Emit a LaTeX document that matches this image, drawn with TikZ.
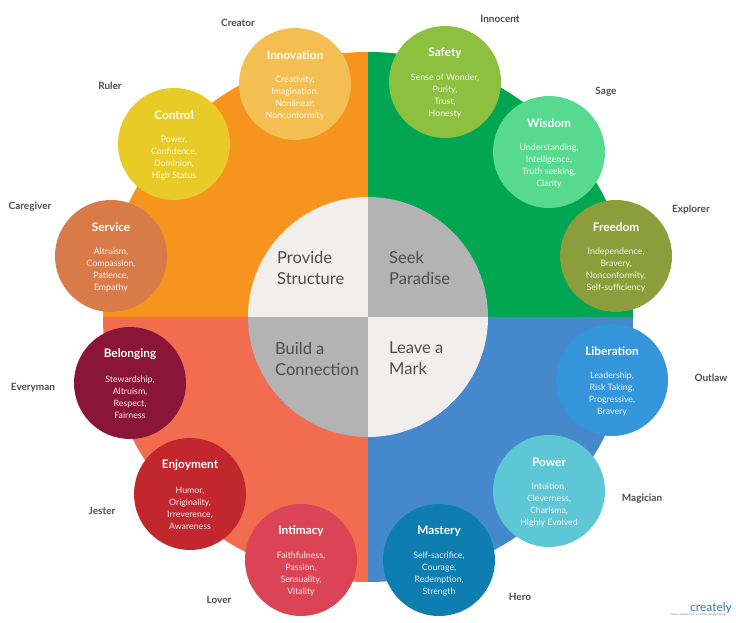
\documentclass[tikz,border=0pt]{standalone}
\usepackage{fontspec}
\setmainfont{Lato}
\usepackage{tikz}
\usepackage{xcolor}
\definecolor{quadO}{HTML}{F7941D}
\definecolor{quadV}{HTML}{00A651}
\definecolor{quadR}{HTML}{F26C4F}
\definecolor{quadB}{HTML}{4589CC}
\definecolor{clair}{HTML}{F0EFEC}
\definecolor{gris}{HTML}{B3B3B3}
\definecolor{texteG}{HTML}{4D4D4D}
\definecolor{cInnov}{HTML}{F3BF52}
\definecolor{cControl}{HTML}{E8CB26}
\definecolor{cService}{HTML}{D97B48}
\definecolor{cSafety}{HTML}{8DC03F}
\definecolor{cWisdom}{HTML}{57DA8F}
\definecolor{cFreedom}{HTML}{8C9E3B}
\definecolor{cBelong}{HTML}{8A1538}
\definecolor{cEnjoy}{HTML}{C1272D}
\definecolor{cIntim}{HTML}{DB4456}
\definecolor{cLiber}{HTML}{3595DA}
\definecolor{cPower}{HTML}{5EC7D6}
\definecolor{cMaster}{HTML}{0E7DB0}
\definecolor{logoB}{HTML}{2C7BB6}

\begin{document}
\begin{tikzpicture}[x=1pt, y=1pt,
    bulle/.style={circle, minimum size=112pt, inner sep=0pt},
    titre/.style={text=white, font=\fontsize{11.8}{13}\selectfont\bfseries},
    texte/.style={text=white, text opacity=.9, align=center, font=\fontsize{8.8}{12}\selectfont},
    arch/.style={text=texteG, font=\fontsize{10}{11}\selectfont\bfseries},
    centre/.style={text=texteG, align=left, anchor=west, inner sep=0pt, font=\fontsize{16.5}{21}\selectfont}]
    \useasboundingbox (0,0) rectangle (736,622);
    % grand disque
    \begin{scope}
        \clip (368,305) circle (265);
        \fill[quadO] (368,305) rectangle (100,575);
        \fill[quadV] (368,305) rectangle (640,575);
        \fill[quadR] (368,305) rectangle (100,35);
        \fill[quadB] (368,305) rectangle (640,35);
    \end{scope}
    % disque central
    \begin{scope}
        \clip (368,305) circle (120);
        \fill[clair] (368,305) rectangle (240,430);
        \fill[gris] (368,305) rectangle (496,430);
        \fill[gris] (368,305) rectangle (240,180);
        \fill[clair] (368,305) rectangle (496,180);
    \end{scope}
    \node[centre] (structure) at (277,354) {Provide\\Structure};
    \node[centre] (paradise) at (389,354) {Seek\\Paradise};
    \node[centre] (connection) at (275,263) {Build a\\Connection};
    \node[centre] (mark) at (389,264) {Leave a\\Mark};
    %haut gauche
    \node[bulle, fill=cInnov] (innovation) at (295,538) {};
    \node[titre] (innovation-t) at ([yshift=29pt]innovation.center) {Innovation};
    \node[texte] (innovation-b) at ([yshift=-14pt]innovation.center) {Creativity,\\Imagination,\\Nonlinear,\\Nonconformity};
    \node[bulle, fill=cControl] (control) at (174,478) {};
    \node[titre] (control-t) at ([yshift=29pt]control.center) {Control};
    \node[texte] (control-b) at ([yshift=-14pt]control.center) {Power,\\Confidence,\\Dominion,\\High Status};
    \node[bulle, fill=cService] (service) at (111,366) {};
    \node[titre] (service-t) at ([yshift=29pt]service.center) {Service};
    \node[texte] (service-b) at ([yshift=-14pt]service.center) {Altruism,\\Compassion,\\Patience,\\Empathy};
    %haut droite
    \node[bulle, fill=cSafety] (safety) at (445,540) {};
    \node[titre] (safety-t) at ([yshift=29pt]safety.center) {Safety};
    \node[texte] (safety-b) at ([yshift=-14pt]safety.center) {Sense of Wonder,\\Purity,\\Trust,\\Honesty};
    \node[bulle, fill=cWisdom] (wisdom) at (549,470) {};
    \node[titre] (wisdom-t) at ([yshift=29pt]wisdom.center) {Wisdom};
    \node[texte] (wisdom-b) at ([yshift=-14pt]wisdom.center) {Understanding,\\Intelligence,\\Truth seeking,\\Clarity};
    \node[bulle, fill=cFreedom] (freedom) at (616,366) {};
    \node[titre] (freedom-t) at ([yshift=29pt]freedom.center) {Freedom};
    \node[texte] (freedom-b) at ([yshift=-14pt]freedom.center) {Independence,\\Bravery,\\Nonconformity,\\Self-sufficiency};
    %bas gauche
    \node[bulle, fill=cBelong] (belonging) at (130,239) {};
    \node[titre] (belonging-t) at ([yshift=29pt]belonging.center) {Belonging};
    \node[texte] (belonging-b) at ([yshift=-14pt]belonging.center) {Stewardship,\\Altruism,\\Respect,\\Fairness};
    \node[bulle, fill=cEnjoy] (enjoyment) at (190,128) {};
    \node[titre] (enjoyment-t) at ([yshift=29pt]enjoyment.center) {Enjoyment};
    \node[texte] (enjoyment-b) at ([yshift=-14pt]enjoyment.center) {Humor,\\Originality,\\Irreverence,\\Awareness};
    \node[bulle, fill=cIntim] (intimacy) at (301,62) {};
    \node[titre] (intimacy-t) at ([yshift=29pt]intimacy.center) {Intimacy};
    \node[texte] (intimacy-b) at ([yshift=-14pt]intimacy.center) {Faithfulness,\\Passion,\\Sensuality,\\Vitality};
    %bas droite
    \node[bulle, fill=cLiber] (liberation) at (612,242) {};
    \node[titre] (liberation-t) at ([yshift=29pt]liberation.center) {Liberation};
    \node[texte] (liberation-b) at ([yshift=-14pt]liberation.center) {Leadership,\\Risk Taking,\\Progressive,\\Bravery};
    \node[bulle, fill=cPower] (power) at (549,131) {};
    \node[titre] (power-t) at ([yshift=29pt]power.center) {Power};
    \node[texte] (power-b) at ([yshift=-14pt]power.center) {Intuition,\\Cleverness,\\Charisma,\\Highly Evolved};
    \node[bulle, fill=cMaster] (mastery) at (439,62) {};
    \node[titre] (mastery-t) at ([yshift=29pt]mastery.center) {Mastery};
    \node[texte] (mastery-b) at ([yshift=-14pt]mastery.center) {Self-sacrifice,\\Courage,\\Redemption,\\Strength};
    %archétypes
    \node[arch] (creator) at (238,599) {Creator};
    \node[arch] (innocent) at (500,603) {Innocent};
    \node[arch] (ruler) at (110,536) {Ruler};
    \node[arch] (sage) at (606,530) {Sage};
    \node[arch] (caregiver) at (30,415) {Caregiver};
    \node[arch] (explorer) at (691,412) {Explorer};
    \node[arch] (everyman) at (33,234) {Everyman};
    \node[arch] (outlaw) at (711,244) {Outlaw};
    \node[arch] (jester) at (102,111) {Jester};
    \node[arch] (magician) at (642,123) {Magician};
    \node[arch] (lover) at (219,22) {Lover};
    \node[arch] (hero) at (520,25) {Hero};
    %logo
    \node[text=logoB, font=\fontsize{12}{12}\selectfont] (logo) at (711,14) {creately};
    \node[text=gray, font=\fontsize{3}{3}\selectfont] (site) at (698,7) {www.creately.com • Online Diagramming};
\end{tikzpicture}
\end{document}
